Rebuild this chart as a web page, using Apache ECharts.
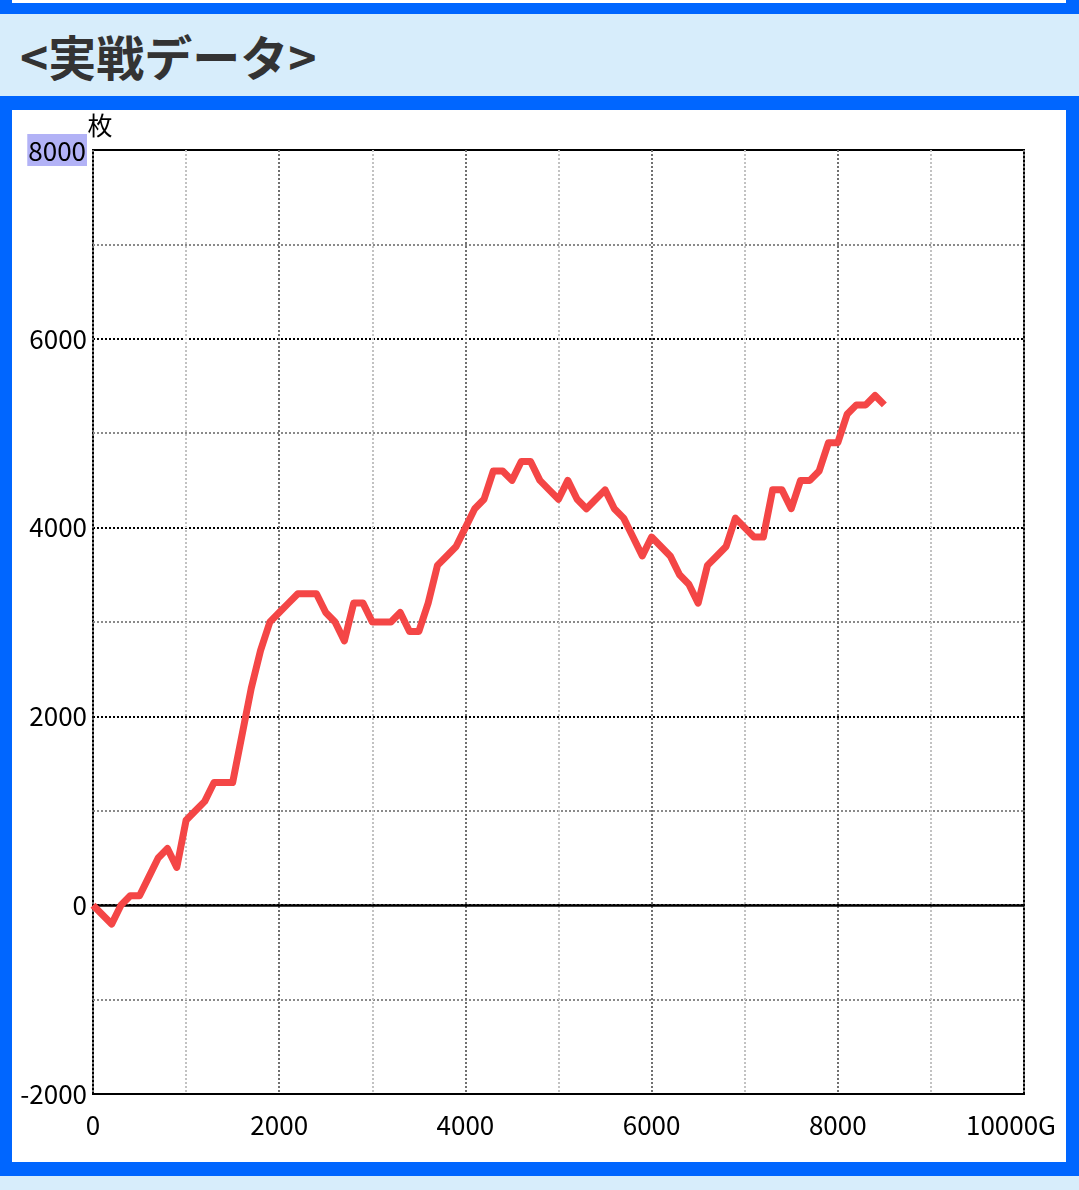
<!DOCTYPE html>
<html>
<head>
<meta charset="utf-8">
<script src="https://cdn.jsdelivr.net/npm/echarts@6/dist/echarts.min.js"></script>
<style>
  html, body { margin: 0; padding: 0; }
  body { width: 1079px; height: 1190px; position: relative; background: #d7edfb; overflow: hidden; font-family: "Noto Sans CJK JP", "Noto Sans", sans-serif; }
  .blue { position: absolute; background: #0066ff; }
  .white { position: absolute; background: #ffffff; }
  #title { position: absolute; left: 20px; top: 21px; font-size: 48px; font-weight: bold; color: #333333; line-height: 68px; font-family: "Noto Sans CJK JP", sans-serif; white-space: nowrap; }
  #chart { position: absolute; left: 0; top: 0; width: 1079px; height: 1190px; }
</style>
</head>
<body>
<div class="blue" style="left:0;top:0;width:1079px;height:14px;"></div>
<div class="white" style="left:12px;top:0;width:1054px;height:3px;"></div>
<div id="title">&lt;実戦データ&gt;</div>
<div class="blue" style="left:0;top:96px;width:1079px;height:1080px;"></div>
<div class="white" style="left:12px;top:110px;width:1054px;height:1052px;"></div>
<div id="chart"></div>
<script>
// Games played (G)
const games = [0,200,300,400,500,600,700,800,900,1000,1100,1200,1300,1500,1700,1800,1900,2000,2100,2200,2300,2400,2500,2600,2700,2800,2900,3000,3100,3200,3300,3400,3500,3600,3700,3800,3900,4000,4100,4200,4300,4400,4500,4600,4700,4800,4900,5000,5100,5200,5300,5400,5500,5600,5700,5800,5900,6000,6100,6200,6300,6400,6500,6600,6700,6800,6900,7000,7100,7200,7300,7400,7500,7600,7700,7800,7900,8000,8100,8200,8300,8400,8500];
// Medal difference (枚)
const medals = [0,-200,0,100,100,300,500,600,400,900,1000,1100,1300,1300,2300,2700,3000,3100,3200,3300,3300,3300,3100,3000,2800,3200,3200,3000,3000,3000,3100,2900,2900,3200,3600,3700,3800,4000,4200,4300,4600,4600,4500,4700,4700,4500,4400,4300,4500,4300,4200,4300,4400,4200,4100,3900,3700,3900,3800,3700,3500,3400,3200,3600,3700,3800,4100,4000,3900,3900,4400,4400,4200,4500,4500,4600,4900,4900,5200,5300,5300,5400,5300];
const xTicks = { min: 0, max: 10000, step: 2000, last: '10000G' };
const yTicks = { min: -2000, max: 8000, step: 2000, highlight: 8000 };
const yName = '枚';

const seriesData = games.map((g, i) => [g, medals[i]]);
const font = '"Noto Sans CJK JP", "Noto Sans", sans-serif';

const chart = echarts.init(document.getElementById('chart'), null, { renderer: 'canvas' });
chart.setOption({
  backgroundColor: 'transparent',
  animation: false,
  grid: { left: 93, right: 55, top: 150, bottom: 96, show: true, borderColor: '#000', borderWidth: 2, backgroundColor: 'transparent' },
  xAxis: {
    type: 'value', min: xTicks.min, max: xTicks.max, interval: xTicks.step,
    axisLine: { show: false },
    axisTick: { show: false },
    minorTick: { show: false, splitNumber: 2 },
    splitLine: { show: true, lineStyle: { color: '#707070', width: 2, type: [2, 2] } },
    minorSplitLine: { show: true, lineStyle: { color: '#c2c2c2', width: 2, type: [2, 2] } },
    axisLabel: {
      margin: 18, fontSize: 26, color: '#000', fontFamily: font,
      formatter: function (v) { return v === xTicks.max ? '{last|' + xTicks.last + '}' : String(v); },
      rich: { last: { fontSize: 26, color: '#000', fontFamily: font, padding: [0, 26, 0, 0] } }
    }
  },
  yAxis: {
    type: 'value', min: yTicks.min, max: yTicks.max, interval: yTicks.step,
    name: yName, nameLocation: 'end', nameGap: 12, nameMoveOverlap: false,
    nameTextStyle: { fontSize: 25, color: '#000', fontFamily: font, padding: [0, 0, 0, 14] },
    axisLine: { show: false },
    axisTick: { show: false },
    minorTick: { show: false, splitNumber: 2 },
    splitLine: { show: true, lineStyle: { color: '#000', width: 2, type: [2, 2] } },
    minorSplitLine: { show: true, lineStyle: { color: '#8a8a8a', width: 2, type: [2, 2] } },
    axisLabel: {
      margin: 6, fontSize: 26, color: '#000', fontFamily: font,
      formatter: function (v) { return v === yTicks.highlight ? '{hl|' + v + '}' : String(v); },
      rich: { hl: { fontSize: 26, color: '#000', fontFamily: font, backgroundColor: '#b2b2f6', padding: [4, 1, 2, 1] } }
    }
  },
  series: [{
    type: 'line',
    data: seriesData,
    showSymbol: false,
    symbol: 'none',
    lineStyle: { color: '#f44646', width: 7, join: 'round' },
    z: 5,
    markLine: {
      silent: true, symbol: 'none', label: { show: false },
      lineStyle: { color: '#000', width: 2.5, type: 'solid' },
      data: [{ yAxis: 0 }],
      z: 3
    }
  }]
});
</script>
</body>
</html>
